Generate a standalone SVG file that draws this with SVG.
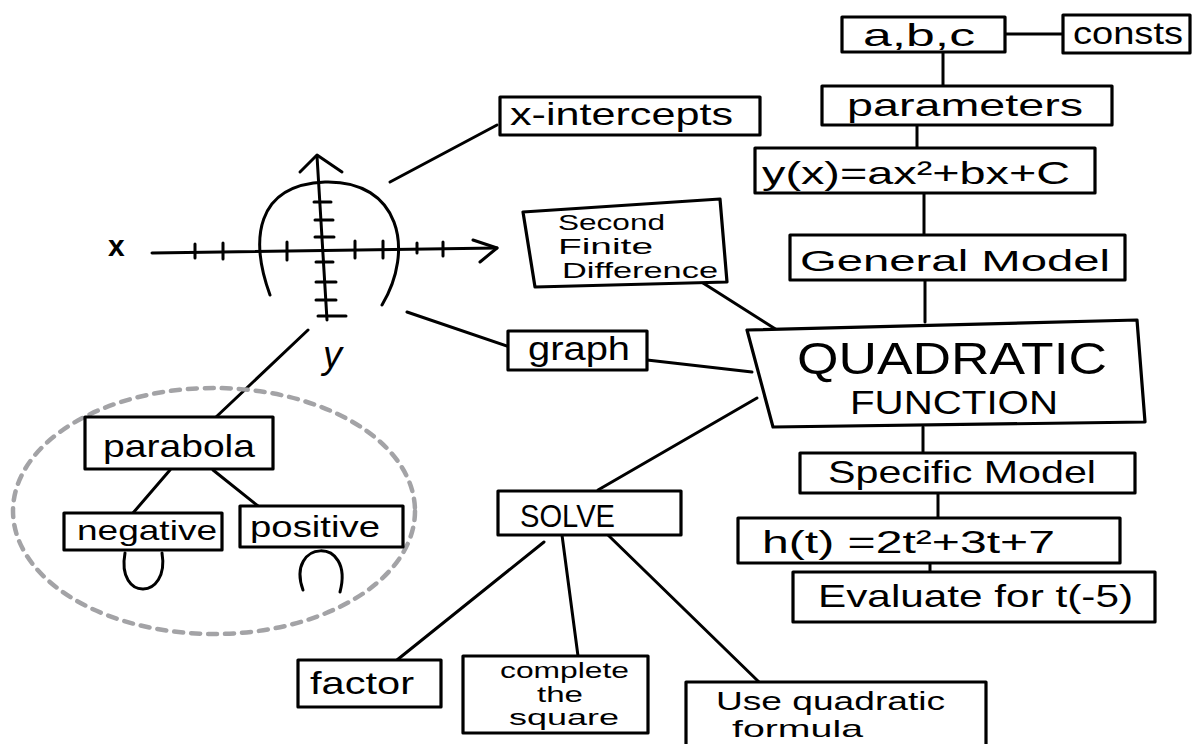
<svg xmlns="http://www.w3.org/2000/svg" width="1193" height="744" viewBox="0 0 1193 744">
<style>
.bx{fill:#fff;stroke:#000;stroke-width:3.2;stroke-linejoin:round}
.ln{fill:none;stroke:#000;stroke-width:3;stroke-linecap:round;stroke-linejoin:round}
.t{font-family:"Liberation Sans",Arial,sans-serif;fill:#000}
.dash{fill:none;stroke:#a3a3a6;stroke-width:4.5;stroke-dasharray:9 8;stroke-linecap:round}
</style>
<rect width="1193" height="744" fill="#fff"/>

<g id="connectors">
  <line class="ln" x1="1005" y1="34" x2="1063" y2="34"/>
  <line class="ln" x1="943" y1="52" x2="943" y2="86"/>
  <line class="ln" x1="917" y1="125" x2="917" y2="148"/>
  <line class="ln" x1="924" y1="193" x2="924" y2="235"/>
  <line class="ln" x1="925" y1="280" x2="925" y2="322"/>
  <line class="ln" x1="923" y1="427" x2="923" y2="453"/>
  <line class="ln" x1="938" y1="493" x2="938" y2="518"/>
  <line class="ln" x1="930" y1="563" x2="930" y2="572"/>
  <line class="ln" x1="390" y1="182" x2="497" y2="125"/>
  <line class="ln" x1="703" y1="283" x2="777" y2="330"/>
  <line class="ln" x1="407" y1="312" x2="510" y2="347"/>
  <line class="ln" x1="647" y1="360" x2="752" y2="372"/>
  <line class="ln" x1="598" y1="490" x2="757" y2="398"/>
  <line class="ln" x1="544" y1="542" x2="397" y2="660"/>
  <line class="ln" x1="562" y1="535" x2="578" y2="656"/>
  <line class="ln" x1="608" y1="535" x2="759" y2="682"/>
  <line class="ln" x1="308" y1="330" x2="215" y2="418"/>
  <line class="ln" x1="170" y1="470" x2="133" y2="513"/>
  <line class="ln" x1="213" y1="470" x2="258" y2="506"/>
</g>

<g id="graph-sketch">
  <text class="t" x="108" y="256" font-size="30" font-weight="bold">x</text>
  <line class="ln" x1="152" y1="253" x2="497" y2="248"/>
  <polyline class="ln" points="473,240 497,248 480,262"/>
  <path class="ln" d="M195 244V258M223 243V259M287 242V260M355 241V258M383 241V258M417 243V253M443 242V256"/>
  <line class="ln" x1="327" y1="320" x2="317" y2="156"/>
  <polyline class="ln" points="300,172 317,155 342,172"/>
  <path class="ln" d="M314 202H331M315 220H333M315 237H334M316 262H333M316 282H336M316 300H336M318 316H346"/>
  <path class="ln" d="M270 295C250 240 255 185 325 182C400 180 415 250 382 305"/>
  <text class="t" x="323" y="368" font-size="38" font-style="italic">y</text>
</g>

<g id="node-abc">
  <rect class="bx" x="842" y="17" width="163" height="35"/>
  <text class="t" x="863" y="46" font-size="32" textLength="112" lengthAdjust="spacingAndGlyphs">a,b,c</text>
</g>
<g id="node-consts">
  <rect class="bx" x="1063" y="15" width="127" height="38"/>
  <text class="t" x="1073" y="44" font-size="32" textLength="110" lengthAdjust="spacingAndGlyphs">consts</text>
</g>
<g id="node-parameters">
  <rect class="bx" x="822" y="86" width="290" height="39"/>
  <text class="t" x="847" y="116" font-size="32" textLength="236" lengthAdjust="spacingAndGlyphs">parameters</text>
</g>
<g id="node-formula">
  <rect class="bx" x="755" y="148" width="340" height="45"/>
  <text class="t" x="762" y="184" font-size="32" textLength="308" lengthAdjust="spacingAndGlyphs">y(x)=ax²+bx+C</text>
</g>
<g id="node-general-model">
  <rect class="bx" x="790" y="235" width="335" height="45"/>
  <text class="t" x="800" y="271" font-size="30" textLength="310" lengthAdjust="spacingAndGlyphs">General Model</text>
</g>
<g id="node-quadratic-function">
  <polygon class="bx" points="747,330 1137,320 1145,422 773,427"/>
  <text class="t" x="797" y="374" font-size="44" textLength="310" lengthAdjust="spacingAndGlyphs">QUADRATIC</text>
  <text class="t" x="850" y="414" font-size="34" textLength="208" lengthAdjust="spacingAndGlyphs">FUNCTION</text>
</g>
<g id="node-specific-model">
  <rect class="bx" x="800" y="453" width="335" height="40"/>
  <text class="t" x="828" y="483" font-size="32" textLength="268" lengthAdjust="spacingAndGlyphs">Specific Model</text>
</g>
<g id="node-ht">
  <rect class="bx" x="738" y="518" width="382" height="45"/>
  <text class="t" x="762" y="553" font-size="32" textLength="293" lengthAdjust="spacingAndGlyphs">h(t) =2t²+3t+7</text>
</g>
<g id="node-evaluate">
  <rect class="bx" x="793" y="572" width="362" height="50"/>
  <text class="t" x="818" y="607" font-size="32" textLength="315" lengthAdjust="spacingAndGlyphs">Evaluate for t(-5)</text>
</g>
<g id="node-x-intercepts">
  <rect class="bx" x="500" y="97" width="260" height="38"/>
  <text class="t" x="510" y="125" font-size="32" textLength="223" lengthAdjust="spacingAndGlyphs">x-intercepts</text>
</g>
<g id="node-second-finite-difference">
  <polygon class="bx" points="523,212 720,199 727,282 535,287"/>
  <text class="t" x="558" y="230" font-size="22" textLength="107" lengthAdjust="spacingAndGlyphs">Second</text>
  <text class="t" x="558" y="254" font-size="22" textLength="95" lengthAdjust="spacingAndGlyphs">Finite</text>
  <text class="t" x="562" y="278" font-size="22" textLength="156" lengthAdjust="spacingAndGlyphs">Difference</text>
</g>
<g id="node-graph">
  <rect class="bx" x="508" y="331" width="139" height="39"/>
  <text class="t" x="528" y="360" font-size="34" textLength="102" lengthAdjust="spacingAndGlyphs">graph</text>
</g>
<g id="node-solve">
  <rect class="bx" x="498" y="491" width="183" height="44"/>
  <text class="t" x="520" y="527" font-size="31" textLength="95" lengthAdjust="spacingAndGlyphs">SOLVE</text>
</g>
<g id="node-factor">
  <rect class="bx" x="298" y="660" width="143" height="47"/>
  <text class="t" x="310" y="694" font-size="32" textLength="104" lengthAdjust="spacingAndGlyphs">factor</text>
</g>
<g id="node-complete-the-square">
  <rect class="bx" x="463" y="656" width="185" height="77"/>
  <text class="t" x="500" y="678" font-size="22" textLength="129" lengthAdjust="spacingAndGlyphs">complete</text>
  <text class="t" x="537" y="702" font-size="22" textLength="46" lengthAdjust="spacingAndGlyphs">the</text>
  <text class="t" x="509" y="725" font-size="22" textLength="110" lengthAdjust="spacingAndGlyphs">square</text>
</g>
<g id="node-quadratic-formula">
  <rect class="bx" x="686" y="682" width="300" height="70"/>
  <text class="t" x="716" y="710" font-size="26" textLength="229" lengthAdjust="spacingAndGlyphs">Use quadratic</text>
  <text class="t" x="732" y="737" font-size="24" textLength="131" lengthAdjust="spacingAndGlyphs">formula</text>
</g>

<g id="group-parabola">
  <ellipse class="dash" cx="214" cy="511" rx="201" ry="123"/>
</g>
<g id="node-parabola">
  <rect class="bx" x="85" y="417" width="188" height="52"/>
  <text class="t" x="103" y="457" font-size="32" textLength="152" lengthAdjust="spacingAndGlyphs">parabola</text>
</g>
<g id="node-negative">
  <rect class="bx" x="64" y="513" width="158" height="37"/>
  <text class="t" x="77" y="540" font-size="28" textLength="140" lengthAdjust="spacingAndGlyphs">negative</text>
  <path class="ln" d="M125 553C116 602 170 600 162 553"/>
</g>
<g id="node-positive">
  <rect class="bx" x="240" y="506" width="163" height="41"/>
  <text class="t" x="250" y="537" font-size="30" textLength="130" lengthAdjust="spacingAndGlyphs">positive</text>
  <path class="ln" d="M303 590C285 540 355 535 340 592"/>
</g>
</svg>
